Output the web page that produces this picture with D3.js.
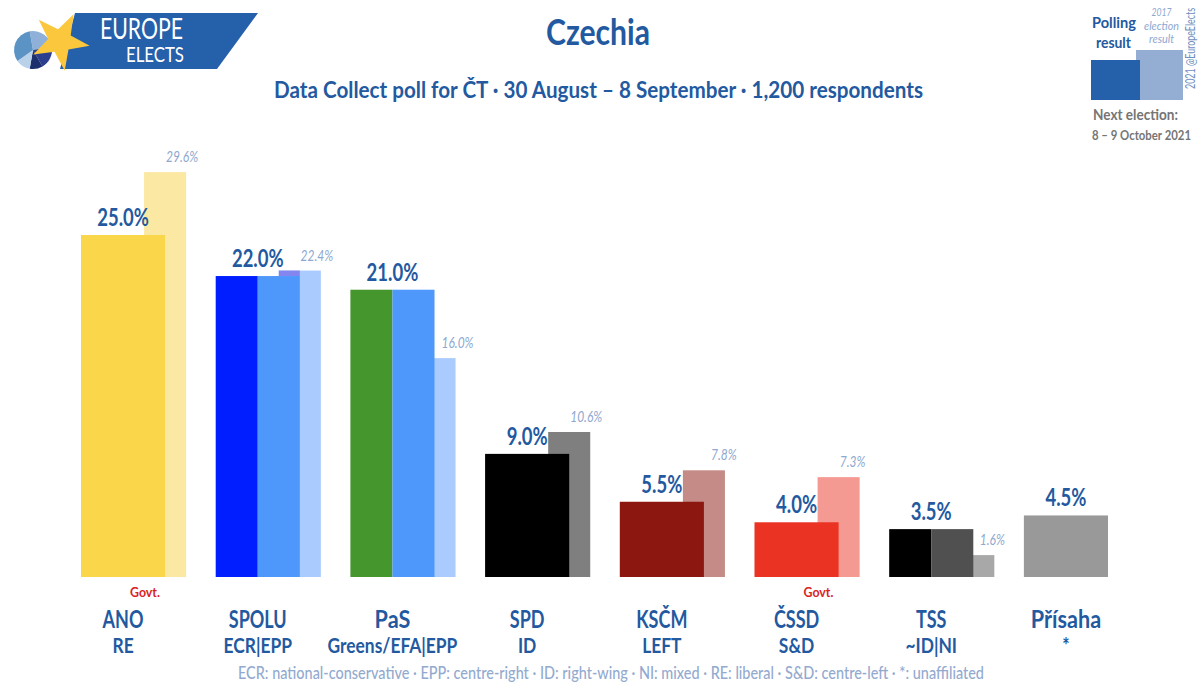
<!DOCTYPE html>
<html lang="en">
<head>
    <meta charset="UTF-8">
    <title>Czechia poll</title>
    <script src="https://d3js.org/d3.v7.min.js"></script>
    <style>
        html, body { margin: 0; padding: 0; background: #fff; }
        svg { display: block; }
        text { font-family: Lato, "Noto Sans", sans-serif; fill: #23599f; font-weight: 700; }
        .prev { fill: #8ea8cf; font-style: italic; font-weight: 400; }
        .note { fill: #93aacf; }
        .grey { fill: #757575; }
    </style>
</head>
<body>
    <svg width="1200" height="691"></svg>
    <script>
        // Data
        const parties = ["ANO", "SPOLU", "PaS", "SPD", "KSČM", "ČSSD", "TSS", "Přísaha"];
        const groups = ["RE", "ECR|EPP", "Greens/EFA|EPP", "ID", "LEFT", "S&D", "~ID|NI", "*"];
        const polls = [25.0, 22.0, 21.0, 9.0, 5.5, 4.0, 3.5, 4.5];
        const results2017 = [29.6, 22.4, 16.0, 10.6, 7.8, 7.3, 1.6, null];
        const pollColors = [["#fad74a"], ["#001eff", "#4f98fb"], ["#45962c", "#4f98fb"], ["#000000"],
            ["#8c1710"], ["#ea3323"], ["#000000", "#505050"], ["#999999"]];
        const prevColors = ["#fbe9a3", "#a9cbfd", "#a9cbfd", "#7f7f7f", "#c58b87", "#f59a93", "#a8a8a8", null];
        const govt = ["ANO", "ČSSD"];
        const pieSlices = [90, 70, 40, 45, 115];
        const pieColors = ["#8fb0d8", "#2c3f8f", "#1e2f6e", "#b9d2ea", "#5b93c5"];

        const svg = d3.select("svg");

        // squeeze text sideways, the original font is a narrow one
        function fit(sel, width) {
            sel.attr("textLength", width).attr("lengthAdjust", "spacingAndGlyphs");
            return sel;
        }
        function squeeze(sel, k) {
            sel.each(function (d) {
                const f = typeof k === "function" ? k(d) : k;
                fit(d3.select(this), this.getComputedTextLength() * f);
            });
            return sel;
        }
        function label(px, py, size, str, width) {
            const t = svg.append("text").attr("x", px).attr("y", py).attr("font-size", size)
                .attr("text-anchor", "middle").text(str);
            return width ? fit(t, width) : t;
        }

        // Scales
        const x = d3.scaleBand().domain(parties).range([81, 1108]).paddingInner(0.3755).paddingOuter(0);
        const y = d3.scaleLinear().domain([0, 25]).range([577, 235]);
        const w = x.bandwidth();

        // 2017 results sit behind the poll bars, shifted right
        const prevX = p => x(p) + w * 0.75;
        parties.forEach((p, i) => {
            if (results2017[i] === null) return;
            svg.append("rect")
                .attr("x", prevX(p)).attr("y", y(results2017[i]))
                .attr("width", w / 2).attr("height", y(0) - y(results2017[i]))
                .attr("fill", prevColors[i]);
        });

        // Poll bars, split in two when the list is a coalition
        parties.forEach((p, i) => {
            const cols = pollColors[i];
            cols.forEach((c, j) => {
                svg.append("rect")
                    .attr("x", x(p) + j * w / cols.length).attr("y", y(polls[i]))
                    .attr("width", w / cols.length).attr("height", y(0) - y(polls[i]))
                    .attr("fill", c);
            });
        });

        // SPOLU 2017 result pokes out over the poll bar
        svg.append("rect")
            .attr("x", prevX("SPOLU")).attr("y", y(22.4))
            .attr("width", w / 4).attr("height", y(22) - y(22.4))
            .attr("fill", "#8585f0");

        // Value labels
        svg.selectAll(".val").data(parties).enter().append("text")
            .attr("class", "val")
            .attr("x", d => x(d) + w / 2)
            .attr("y", (d, i) => y(polls[i]) - 9)
            .attr("text-anchor", "middle")
            .attr("font-size", 24)
            .text((d, i) => polls[i].toFixed(1) + "%")
            .call(squeeze, 0.77);

        // the 2017 labels were placed by hand, not all the same distance from their bar
        const prevShift = { "PaS": 23, "KSČM": 20, "ČSSD": 14, "TSS": 19 };
        svg.selectAll(".prev").data(parties.filter((d, i) => results2017[i] !== null)).enter().append("text")
            .attr("class", "prev")
            .attr("x", d => prevX(d) + w / 4 + (prevShift[d] || 17))
            .attr("y", d => y(results2017[parties.indexOf(d)]) - 10)
            .attr("text-anchor", "middle")
            .attr("font-size", 15)
            .text(d => results2017[parties.indexOf(d)].toFixed(1) + "%")
            .call(squeeze, 0.8);

        // Party and group names
        svg.selectAll(".party").data(parties).enter().append("text")
            .attr("x", d => x(d) + w / 2).attr("y", 628)
            .attr("text-anchor", "middle").attr("font-size", 24)
            .text(d => d)
            .call(squeeze, d => /[a-z]/.test(d) ? 0.9 : 0.75);
        svg.selectAll(".group").data(groups).enter().append("text")
            .attr("x", (d, i) => x(parties[i]) + w / 2).attr("y", 653)
            .attr("text-anchor", "middle").attr("font-size", 20)
            .text(d => d)
            .call(squeeze, 0.87);

        svg.selectAll(".govt").data(govt).enter().append("text")
            .attr("x", d => x(d) + 64).attr("y", 597)
            .attr("text-anchor", "middle").attr("font-size", 13)
            .style("fill", "#d9231f")
            .text("Govt.")
            .call(squeeze, 0.95);

        // Titles
        label(598, 45, 36, "Czechia", 104);
        label(598.5, 98, 22, "Data Collect poll for ČT · 30 August – 8 September · 1,200 respondents", 649);
        label(611, 679, 17, "ECR: national-conservative · EPP: centre-right · ID: right-wing · NI: mixed · RE: liberal · S&D: centre-left · *: unaffiliated", 746)
            .attr("class", "note").style("font-weight", 500);

        // Logo
        svg.append("polygon").attr("points", "75,13 258,13 217,69 60,69").attr("fill", "#2560aa");
        const arc = d3.arc().innerRadius(0).outerRadius(19);
        const a0 = -10 * Math.PI / 180;
        svg.append("g").attr("transform", "translate(33,50)")
            .selectAll("path").data(d3.pie().sort(null).startAngle(a0).endAngle(a0 + 2 * Math.PI)(pieSlices))
            .enter().append("path").attr("d", arc).attr("fill", (d, i) => pieColors[i]);
        const star = d3.range(10).map(i => {
            const r = i % 2 ? 12 : 30, a = (27 + i * 36) * Math.PI / 180;
            return [60 + r * Math.sin(a), 41 - r * Math.cos(a)];
        });
        svg.append("polygon").attr("points", star.join(" ")).attr("fill", "#fbc73c");
        label(141.5, 39, 28, "EUROPE", 83).style("fill", "#fff").style("font-weight", 400);
        label(155, 62, 21, "ELECTS", 58).style("fill", "#fff").style("font-weight", 400);

        // Key, top right
        svg.append("rect").attr("x", 1136).attr("y", 50).attr("width", 47).attr("height", 50).attr("fill", "#94add3");
        svg.append("rect").attr("x", 1091).attr("y", 60).attr("width", 49).attr("height", 40).attr("fill", "#2560aa");
        label(1114, 28, 16, "Polling", 44);
        label(1113.5, 48, 16, "result", 35);
        label(1161.5, 16, 12, "2017", 20).attr("class", "prev");
        label(1161.5, 30, 12, "election", 35).attr("class", "prev");
        label(1161.5, 43, 12, "result", 25).attr("class", "prev");
        svg.append("text").attr("transform", "translate(1195,89) rotate(-90)")
            .attr("font-size", 12.5).style("fill", "#6f8fbf").style("font-weight", 400)
            .text("2021 @EuropeElects").call(fit, 81);
        label(1135.5, 120, 15, "Next election:", 85).attr("class", "grey");
        label(1141.5, 140, 13.5, "8 – 9 October 2021", 99).attr("class", "grey");
    </script>
</body>
</html>
